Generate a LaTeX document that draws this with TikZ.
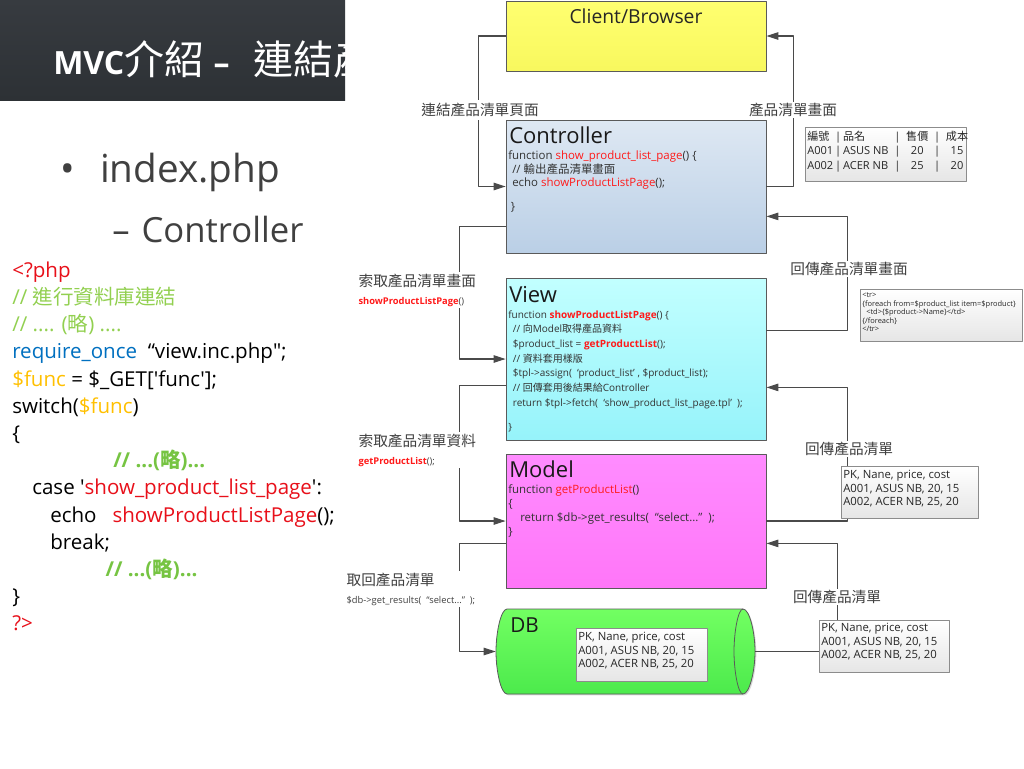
\documentclass[tikz,border=0pt]{standalone}
\usepackage{fontspec}
\setmainfont{Open Sans}
\newfontfamily\cjk{Noto Sans CJK TC}
\newcommand\zh[1]{{\cjk #1}}
\usetikzlibrary{arrows.meta,calc,shadows}
\definecolor{titletop}{HTML}{373B40}
\definecolor{titlebot}{HTML}{2D3135}
\definecolor{slidegray}{HTML}{404040}
\definecolor{phpred}{HTML}{E8101A}
\definecolor{phpgreen}{HTML}{92D050}
\definecolor{phpgreenb}{HTML}{76C442}
\definecolor{phpblue}{HTML}{0070C0}
\definecolor{phporange}{HTML}{FFC000}
\definecolor{boxline}{HTML}{5A5A5A}
\definecolor{linegray}{HTML}{4A4A4A}
\definecolor{lblgray}{HTML}{404040}
\definecolor{notedraw}{HTML}{8C8C8C}
\definecolor{codered}{HTML}{FF1A1A}
\definecolor{clienttop}{HTML}{FFFF70}
\definecolor{clientbot}{HTML}{F8F85E}
\definecolor{ctrltop}{HTML}{DEE8F3}
\definecolor{ctrlbot}{HTML}{BACFE6}
\definecolor{viewtop}{HTML}{C2FFFF}
\definecolor{viewbot}{HTML}{96F3FA}
\definecolor{modeltop}{HTML}{FF8CFF}
\definecolor{modelbot}{HTML}{FF76F8}
\definecolor{dbtop}{HTML}{72FF62}
\definecolor{dbbot}{HTML}{4CEA4C}
\newcommand\fn[1]{\textcolor{codered}{#1}}
\newcommand\fnb[1]{\textcolor{codered}{\bfseries #1}}
\begin{document}
\begin{tikzpicture}[x=0.75pt,y=-0.75pt,line join=round,
  mvcbox/.style={draw=boxline,line width=0.6pt,inner sep=0pt,minimum width=195pt,
    drop shadow={shadow xshift=1pt,shadow yshift=-1pt,opacity=0.3}},
  boxtitle/.style={anchor=base west,inner sep=0pt,text=black!90,font=\fontsize{16.5}{20}\selectfont},
  boxcode/.style={anchor=north west,inner sep=0pt,align=left,text=black!80},
  link/.style={draw=linegray,line width=0.8pt,-{Triangle[length=9pt,width=5.6pt]}},
  lbl/.style={inner sep=1pt,fill=white,text=lblgray,align=left,font=\cjk\fontsize{11}{13.5}\selectfont},
  note/.style={anchor=north west,draw=notedraw,line width=0.5pt,inner sep=0pt,top color=white,bottom color=black!10,
    drop shadow={shadow xshift=0.8pt,shadow yshift=-0.8pt,opacity=0.25}},
  notetxt/.style={anchor=north west,inner sep=0pt,align=left,text=black!85,font=\fontsize{8.5}{10.1}\selectfont}]
\fill[white] (0,0) rectangle (1024,768);
\useasboundingbox (0,0) rectangle (1024,768);
% slide title
\begin{scope}
\clip (0,0) rectangle (345,100);
\shade[top color=titletop,bottom color=titlebot] (0,0) rectangle (345,100);
\node[anchor=base west,inner sep=0pt,text=white] (title) at (53,74)
  {\fontsize{24}{28}\selectfont\bfseries MVC\zh{\mdseries\fontsize{30}{34}\selectfont 介紹}\hspace{7pt}–\hspace{18pt}\zh{\mdseries\fontsize{30}{34}\selectfont 連結產}};
\end{scope}
\node[anchor=base west,inner sep=0pt,text=slidegray,font=\fontsize{29}{34}\selectfont] (item) at (60,182) {•\hspace{19pt}index.php};
\node[anchor=base west,inner sep=0pt,text=slidegray,font=\fontsize{26}{30}\selectfont] (subitem) at (112,242) {–\hspace{9pt}Controller};
% php code
\node[anchor=north west,inner sep=0pt,align=left,text=black,font=\fontsize{15.4}{20.4}\selectfont] (php) at (12,261.5) {%
{\color{phpred}<?php}\\
{\color{phpgreen}// \zh{進行資料庫連結}}\\
{\color{phpgreen}// .... (\zh{略}) ....}\\
{\color{phpblue}require\_once}\ \ “view.inc.php\textquotedbl;\\
{\color{phporange}\$func} = \$\_GET[\textquotesingle func\textquotesingle];\\
switch({\color{phporange}\$func})\\
\{\\
\hspace*{75.75pt}{\color{phpgreenb}\bfseries // ...(\zh{略})...}\\
\hspace*{15pt}case \textquotesingle{\color{phpred}show\_product\_list\_page}\textquotesingle:\\
\hspace*{28.5pt}echo\ \ \ {\color{phpred}showProductListPage}();\\
\hspace*{28.5pt}break;\\
\hspace*{70pt}{\color{phpgreenb}\bfseries // ...(\zh{略})...}\\
\}\\
{\color{phpred}?>}};
% MVC boxes
\node[mvcbox,minimum height=52.5pt,top color=clienttop,bottom color=clientbot] (client) at (636,36) {};
\node[mvcbox,minimum height=99.75pt,top color=ctrltop,bottom color=ctrlbot] (ctrl) at (636,186.5) {};
\node[mvcbox,minimum height=121.5pt,top color=viewtop,bottom color=viewbot] (view) at (636,359) {};
\node[mvcbox,minimum height=100.5pt,top color=modeltop,bottom color=modelbot] (model) at (636,521) {};
\node[inner sep=0pt,minimum width=194.25pt,minimum height=63.75pt] (db) at (625.5,651.5) {};
\draw[draw=boxline,line width=0.6pt,top color=dbtop,bottom color=dbbot,
    drop shadow={shadow xshift=1pt,shadow yshift=-1pt,opacity=0.3}]
  (507,609) -- (743,609) .. controls (749.6,609) and (755,632.5) .. (755,651.5)
  .. controls (755,670.5) and (749.6,694) .. (743,694) -- (507,694)
  .. controls (500.9,694) and (496,670.5) .. (496,651.5)
  .. controls (496,632.5) and (500.9,609) .. (507,609) -- cycle;
\draw[boxline,line width=0.6pt] (743,609) .. controls (738,609) and (734,632.5) .. (734,651.5)
  .. controls (734,670.5) and (738,694) .. (743,694);
% box texts
\node[anchor=base,inner sep=0pt,text=black!85,font=\fontsize{14.5}{18}\selectfont] (client-txt) at (636,23) {Client/Browser};
\node[boxtitle] (ctrl-title) at (509,143) {Controller};
\node[boxcode,font=\fontsize{8.6}{10.1}\selectfont] (ctrl-code) at (508,150.5) {%
function \fn{show\_product\_list\_page}() \{\\
\hspace*{3pt}// \zh{輸出產品清單畫面}\\
\hspace*{3pt}echo \fn{showProductListPage}();\\[7.9pt]
\hspace*{2pt}\}};
\node[boxtitle] (view-title) at (509,302) {View};
\node[boxcode,font=\fontsize{7.5}{11}\selectfont] (view-code) at (508,310.4) {%
function \fnb{showProductListPage}() \{\\
\hspace*{3.5pt}// \zh{向}Model\zh{取得產品資料}\\
\hspace*{3.5pt}\$product\_list = \fnb{getProductList}();\\
\hspace*{3.5pt}// \zh{資料套用樣版}\\
\hspace*{3.5pt}\$tpl->assign(\ \ ‘product\_list’\ , \$product\_list);\\
\hspace*{3.5pt}// \zh{回傳套用後結果給}Controller\\
\hspace*{3.5pt}return \$tpl->fetch(\ \ ‘show\_product\_list\_page.tpl’\ \ );\\[7.5pt]
\}};
\node[boxtitle] (model-title) at (509,477) {Model};
\node[boxcode,font=\fontsize{8.6}{10.7}\selectfont] (model-code) at (508,484) {%
function \fn{getProductList}()\\
\{\\
\hspace*{9pt}return \$db->get\_results(\ \ “select...”\ \ );\\
\}};
\node[boxtitle,font=\fontsize{15.5}{19}\selectfont] (db-title) at (510,632) {DB};
% connectors
\draw[link] (client.west) -- ++(-27,0) |- (ctrl.west);
\draw[link] (ctrl.east) -- ++(27,0) |- (client.east);
\draw[link] ($(ctrl.south west)+(0,-27)$) -- ++(-46,0) |- (view.west);
\draw[link] ($(view.north east)+(0,53)$) -- ++(81,0) |- ($(ctrl.south east)+(0,-37)$);
\draw[link] ($(view.south west)+(0,-55)$) -- ++(-46,0) |- (model.west);
\draw[link] (model.east) -- ++(81,0) |- ($(view.south east)+(0,-53)$);
\draw[link] ($(model.south west)+(0,-45)$) -- ++(-46,0) |- (db.west);
\draw[link] (db.east) -- ++(82,0) |- ($(model.south east)+(0,-45)$);
% connector labels
\node[lbl,inner ysep=2.5pt] (l-link) at (480,110) {連結產品清單頁面};
\node[lbl] (l-page) at (793,110) {產品清單畫面};
\node[lbl,anchor=north west] (l-ask-page) at (357,272) {索取產品清單畫面\\{\rmfamily\fontsize{7}{8}\selectfont\fnb{showProductListPage}()}};
\node[lbl] (l-ret-page) at (849,269) {回傳產品清單畫面};
\node[lbl,anchor=north west] (l-ask-data) at (357,432) {索取產品清單資料\\{\rmfamily\fontsize{7}{8}\selectfont\fnb{getProductList}();}};
\node[lbl] (l-ret-list) at (849,449) {回傳產品清單};
\node[lbl,anchor=north west] (l-get-list) at (345,571) {取回產品清單\\{\rmfamily\fontsize{7}{8}\selectfont\$db->get\_results(\ \ “select...”\ \ );}};
\node[lbl] (l-ret-db) at (837,597) {回傳產品清單};
% notes
\node[note,minimum width=120.75pt,minimum height=40.5pt] (ctrl-note) at (805,127) {};
\node[notetxt,font=\fontsize{8.3}{10.9}\selectfont] (ctrl-note-txt) at (807,130) {%
\begin{tabular}{@{}l@{\,|\,}l@{\ \ |\ \ }c@{\ \ |\ \ }c@{}}
\zh{編號} & \zh{品名} & \zh{售價} & \zh{成本}\\
A001 & ASUS NB & 20 & 15\\
A002 & ACER NB & 25 & 20
\end{tabular}};
\node[note,minimum width=121.5pt,minimum height=39pt] (view-note) at (860,289) {};
\node[notetxt,font=\fontsize{5.6}{6.4}\selectfont] (view-note-txt) at (862,292.3) {%
<tr>\\
\{foreach from=\$product\_list item=\$product\}\\
\hspace*{3pt}<td>\{\$product->Name\}</td>\\
\{/foreach\}\\
</tr>};
\node[note,minimum width=102.75pt,minimum height=39pt] (model-note) at (841,466) {};
\node[notetxt] (model-note-txt) at (843,470.4) {PK, Nane, price, cost\\A001, ASUS NB, 20, 15\\A002, ACER NB, 25, 20};
\node[note,minimum width=98.25pt,minimum height=39.75pt,drop shadow={opacity=0}] (db-note) at (576,628) {};
\node[notetxt] (db-note-txt) at (578,632.4) {PK, Nane, price, cost\\A001, ASUS NB, 20, 15\\A002, ACER NB, 25, 20};
\node[note,minimum width=97.5pt,minimum height=39pt] (db-out-note) at (819,620) {};
\node[notetxt] (db-out-note-txt) at (821,623.4) {PK, Nane, price, cost\\A001, ASUS NB, 20, 15\\A002, ACER NB, 25, 20};
\end{tikzpicture}
\end{document}
